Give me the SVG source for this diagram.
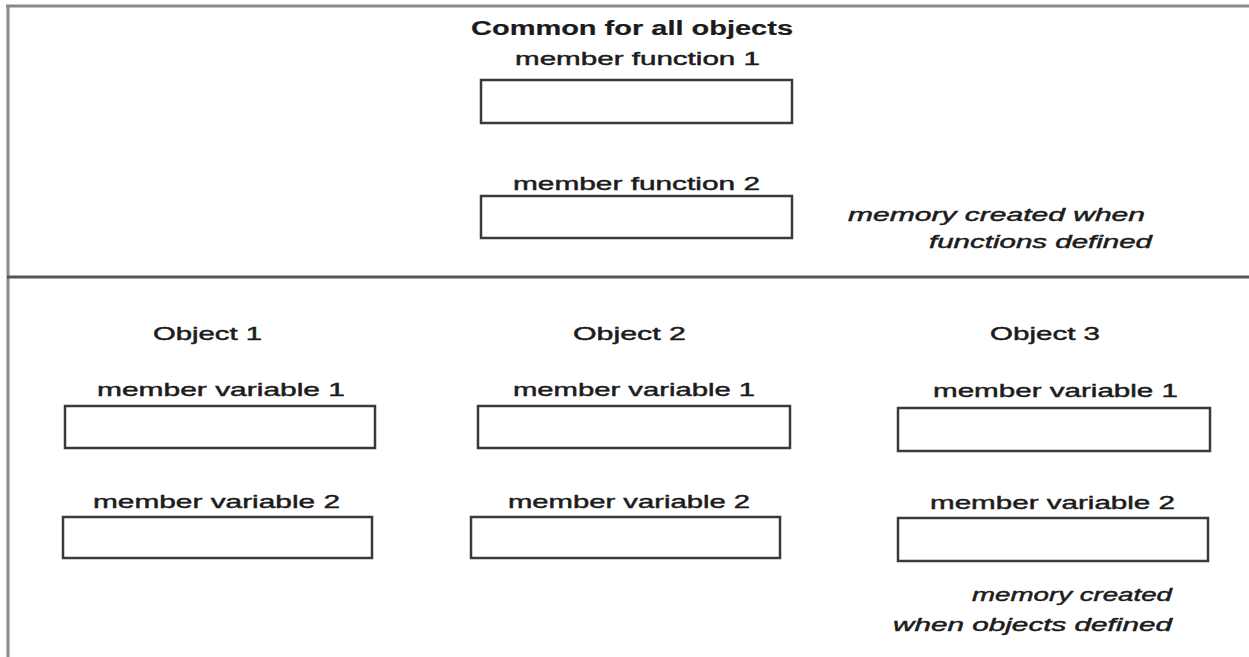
<svg xmlns="http://www.w3.org/2000/svg" width="1249" height="657" viewBox="0 0 1249 657">
  <style>
    .frame { stroke: #8a8a8a; stroke-width: 3; fill: none; }
    .divider { stroke: #555; stroke-width: 3; fill: none; }
    .slot { fill: #fff; stroke: #3a3a3a; stroke-width: 2.5; }
    text { font-family: "Liberation Sans", Arial, sans-serif; fill: #1c1c1c; stroke: #1c1c1c; stroke-width: 0.45; }
    .label { font-size: 18.5px; }
    .title { font-size: 20px; font-weight: bold; stroke-width: 0.2; }
    .note { font-size: 18px; font-style: italic; }
  </style>

  <rect width="1249" height="657" fill="#ffffff"/>

  <!-- page frame and section divider -->
  <g id="frame">
    <line class="frame" x1="6" y1="6" x2="1249" y2="6"/>
    <line class="frame" x1="8" y1="5" x2="8" y2="657"/>
    <line class="divider" x1="7" y1="277" x2="1249" y2="277"/>
  </g>

  <!-- shared member functions -->
  <g id="common">
    <text class="title" x="471" y="35" textLength="322" lengthAdjust="spacingAndGlyphs">Common for all objects</text>
  </g>
  <g id="function1">
    <text class="label" x="515" y="65" textLength="245" lengthAdjust="spacingAndGlyphs">member function 1</text>
    <rect class="slot" x="481" y="80" width="311" height="43"/>
  </g>
  <g id="function2">
    <text class="label" x="513" y="190" textLength="247" lengthAdjust="spacingAndGlyphs">member function 2</text>
    <rect class="slot" x="481" y="196" width="311" height="42"/>
  </g>
  <g id="function-note">
    <text class="note" x="848" y="221" textLength="297" lengthAdjust="spacingAndGlyphs">memory created when</text>
    <text class="note" x="929" y="248" textLength="223" lengthAdjust="spacingAndGlyphs">functions defined</text>
  </g>

  <!-- object 1 -->
  <g id="object1">
    <text class="label" x="153" y="340" textLength="109" lengthAdjust="spacingAndGlyphs">Object 1</text>
    <text class="label" x="97" y="396" textLength="248" lengthAdjust="spacingAndGlyphs">member variable 1</text>
    <rect class="slot" x="65" y="406" width="310" height="42"/>
    <text class="label" x="93" y="508" textLength="247" lengthAdjust="spacingAndGlyphs">member variable 2</text>
    <rect class="slot" x="63" y="517" width="309" height="41"/>
  </g>

  <!-- object 2 -->
  <g id="object2">
    <text class="label" x="573" y="340" textLength="113" lengthAdjust="spacingAndGlyphs">Object 2</text>
    <text class="label" x="513" y="396" textLength="242" lengthAdjust="spacingAndGlyphs">member variable 1</text>
    <rect class="slot" x="478" y="406" width="312" height="42"/>
    <text class="label" x="508" y="508" textLength="242" lengthAdjust="spacingAndGlyphs">member variable 2</text>
    <rect class="slot" x="471" y="517" width="309" height="41"/>
  </g>

  <!-- object 3 -->
  <g id="object3">
    <text class="label" x="990" y="340" textLength="110" lengthAdjust="spacingAndGlyphs">Object 3</text>
    <text class="label" x="933" y="397" textLength="245" lengthAdjust="spacingAndGlyphs">member variable 1</text>
    <rect class="slot" x="898" y="408" width="312" height="43"/>
    <text class="label" x="930" y="509" textLength="245" lengthAdjust="spacingAndGlyphs">member variable 2</text>
    <rect class="slot" x="898" y="518" width="310" height="43"/>
  </g>

  <g id="object-note">
    <text class="note" x="972" y="601" textLength="200" lengthAdjust="spacingAndGlyphs">memory created</text>
    <text class="note" x="893" y="631" textLength="279" lengthAdjust="spacingAndGlyphs">when objects defined</text>
  </g>

  <g id="connectors"/>
</svg>
